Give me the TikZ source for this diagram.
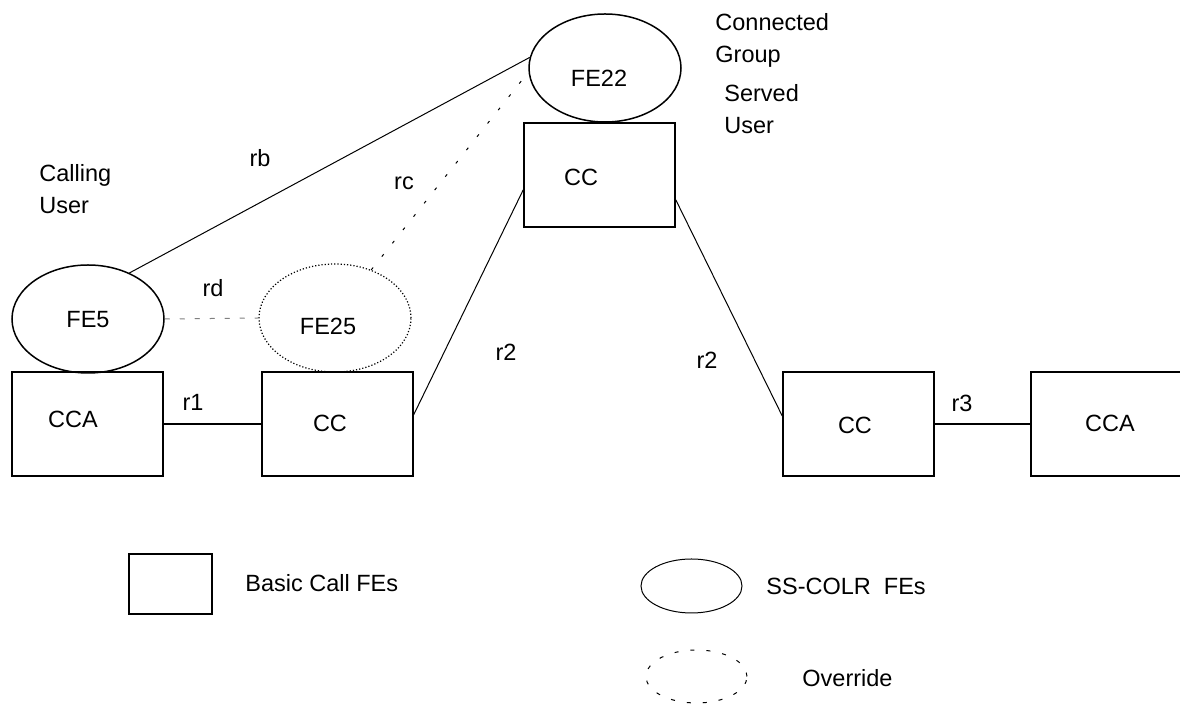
\documentclass[tikz,border=0pt]{standalone}
\usepackage{fontspec}
\setmainfont{Liberation Sans}
\usetikzlibrary{shapes.geometric}
\begin{document}
\begin{tikzpicture}[x=0.5pt,y=-0.5pt,
  box/.style={draw,line width=0.75pt,rectangle,minimum width=75.5pt,minimum height=52pt,inner sep=0pt},
  fe/.style={draw,line width=0.75pt,ellipse,minimum width=76pt,minimum height=54pt,inner sep=0pt},
  lbl/.style={font=\fontsize{11.75}{16}\selectfont,inner sep=0pt},
  thinline/.style={line width=0.5pt},
  link/.style={line width=0.75pt}]
\useasboundingbox (0,0) rectangle (1180,704);
% boxes
\node[box] (cca1) at (87.5,424) {};
\node[box] (cc2) at (337.5,424) {};
\node[box] (cc1) at (599.5,175) {};
\node[box] (cc3) at (858.5,424) {};
\node[box] (cca2) at (1106.5,424) {};
% ellipses
\node[fe] (fe5) at (88,319) {};
\node[fe,line width=0.6pt,densely dotted] (fe25) at (335,318) {};
\node[fe] (fe22) at (605,68) {};
% texts in shapes
\node[lbl] (tcca1) at (73,419) {CCA};
\node[lbl] (tcc2) at (330,423) {CC};
\node[lbl] (tcc1) at (581,177) {CC};
\node[lbl] (tcc3) at (855,425) {CC};
\node[lbl] (tcca2) at (1110,423) {CCA};
\node[lbl] (tfe5) at (88,320) {FE5};
\node[lbl] (tfe25) at (328,326) {FE25};
\node[lbl] (tfe22) at (599,78) {FE22};
% side texts
\node[lbl,anchor=north west,align=left] (tconn) at (715,13) {Connected\\Group};
\node[lbl,anchor=north west,align=left] (tserved) at (724,84) {Served\\User};
\node[lbl,anchor=north west,align=left] (tcalling) at (39,164) {Calling\\User};
% reference point labels
\node[lbl] (lrb) at (260,158) {rb};
\node[lbl] (lrc) at (404,183) {rc};
\node[lbl] (lrd) at (213,288) {rd};
\node[lbl] (lr1) at (193,402) {r1};
\node[lbl] (lr2a) at (506,352) {r2};
\node[lbl] (lr2b) at (707,360) {r2};
\node[lbl] (lr3) at (962,403) {r3};
% connectors
\draw[link] (cca1.east) -- (cc2.west);
\draw[link] (cc3.east) -- (cca2.west);
\draw[thinline] (cc2.7) -- (cc1.191);
\draw[thinline] (cc1.-18) -- (cc3.174);
\draw[thinline] (fe5.48) -- (fe22.172);
\draw[thinline,dash pattern=on 1.5pt off 7pt] (fe25.53) -- (fe22.183);
\draw[thinline,gray,dash pattern=on 2.5pt off 5pt] (fe5.east) -- (fe25.west);
% legend
\node[draw,line width=0.75pt,minimum width=41.5pt,minimum height=30pt,inner sep=0pt] (lbox) at (170.5,584) {};
\node[lbl,anchor=west] (tbasic) at (245,583) {Basic Call FEs};
\node[draw,ellipse,thinline,minimum width=50.5pt,minimum height=27pt,inner sep=0pt] (lell) at (691.5,586) {};
\node[lbl,anchor=west] (tss) at (766,586) {SS-COLR\ \ FEs};
\node[draw,ellipse,thinline,dash pattern=on 2pt off 6pt,minimum width=50.5pt,minimum height=26.5pt,inner sep=0pt] (lov) at (696.5,676.5) {};
\node[lbl,anchor=west] (tov) at (802,678) {Override};
\end{tikzpicture}
\end{document}
